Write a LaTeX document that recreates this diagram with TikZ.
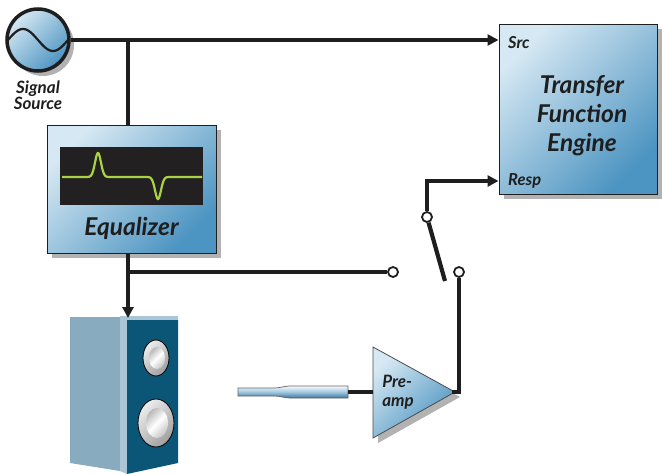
\documentclass[tikz,border=0pt]{standalone}
\usepackage{fontspec}
\setmainfont{Lato}
\usetikzlibrary{arrows.meta,shadows,calc}

\definecolor{boxlight}{HTML}{D6E8F3}
\definecolor{boxdark}{HTML}{4C94C1}
\definecolor{screen}{HTML}{222021}
\definecolor{trace}{HTML}{A9D245}
\definecolor{cabside}{HTML}{89ABC0}
\definecolor{cabedge}{HTML}{AAC6D6}
\definecolor{cabfront}{HTML}{0B5677}
\definecolor{ink}{HTML}{1E1E1E}

\tikzset{
  wire/.style={line width=4.8pt, draw=ink},
  arrowwire/.style={wire, -{Triangle[length=11pt,width=11pt]}},
  softshadow/.style={drop shadow={shadow xshift=5pt, shadow yshift=-5pt, fill=black, opacity=0.3}},
  bluefill/.style={shading=axis, top color=boxlight, bottom color=boxdark, shading angle=45},
  panel/.style={rectangle, draw=ink, line width=1pt, bluefill, softshadow, inner sep=0pt},
  txt/.style={font=\bfseries\itshape, text=ink, inner sep=0pt},
  contact/.style={circle, draw=ink, fill=white, line width=1.8pt, minimum size=10pt, inner sep=0pt},
  conering/.style={draw=black, line width=0.8pt, shading=axis, top color=gray!15, bottom color=gray!75, shading angle=45},
  conecore/.style={shading=axis, top color=gray!55, bottom color=gray!45, middle color=white, shading angle=45},
}

\begin{document}
\begin{tikzpicture}[x=1pt, y=-1pt]
\useasboundingbox (0,0) rectangle (662,474);

% ---- signal source ----
\node[circle, draw=ink, line width=3.5pt, minimum size=62pt, bluefill, softshadow] (src) at (38,40) {};
\begin{scope}
  \clip (src.center) circle (29pt);
  \draw[ink, line width=2.2pt] plot[domain=0:360, samples=60] ({8+\x/6}, {40-11*sin(\x)});
\end{scope}
\node[txt, align=center, font=\bfseries\itshape\fontsize{17}{16}\selectfont] (srclabel) at (38,95) {Signal\\Source};

% ---- transfer function engine ----
\node[panel, minimum width=158pt, minimum height=170pt] (tfe) at (578,109) {};
\node[txt, align=center, font=\bfseries\itshape\fontsize{24.5}{29}\selectfont] (tfetext) at (582,116) {Transfer\\Function\\Engine};
\node[txt, anchor=west, font=\bfseries\itshape\fontsize{16.5}{18}\selectfont] (srcin) at (508,43) {Src};
\node[txt, anchor=west, font=\bfseries\itshape\fontsize{16.5}{18}\selectfont] (respin) at (508,181) {Resp};

% ---- equalizer ----
\node[panel, minimum width=169pt, minimum height=128pt] (eq) at (131.5,189) {};
\node[fill=screen, minimum width=143pt, minimum height=58pt, inner sep=0pt] (scr) at (131.5,176) {};
\draw[trace, line width=2.2pt] plot[domain=62:202, samples=220]
  ({\x}, {177-24*exp(-((\x-98)/4.2)^2)+22*exp(-((\x-158)/4.2)^2)});
\node[txt, font=\bfseries\itshape\fontsize{24.5}{26}\selectfont] (eqlabel) at (131.5,228) {Equalizer};

% ---- loudspeaker ----
\coordinate (spktop) at (128,318);
\fill[cabside] (70,317) -- (120,317) -- (120,471) -- (70,463) -- cycle;
\fill[cabedge] (120,316) -- (178,316) -- (178,320) -- (127,320) -- (127,474) -- (120,471) -- cycle;
\fill[cabfront] (127,320) -- (178,320) -- (178,463) -- (127,474) -- cycle;
\path[conering] (156,358) ellipse (13pt and 18pt);
\path[conecore] (157,358) ellipse (8pt and 11pt);
\path[conering] (156,423) ellipse (18pt and 24pt);
\path[conecore] (157,423) ellipse (11pt and 15pt);

% ---- microphone ----
\coordinate (micend) at (348,392);
\path[draw=ink!70, line width=0.7pt, shading=axis, top color=white!80!boxlight, bottom color=boxdark!80!black, middle color=boxlight!60!boxdark]
  (238,388) -- (274,388) .. controls (281,388) and (284,386) .. (290,386) -- (348,386)
  -- (348,398) -- (290,398) .. controls (284,398) and (281,396) .. (274,396) -- (238,396) -- cycle;

% ---- preamp ----
\coordinate (patop) at (373,347);
\coordinate (pabot) at (373,438);
\coordinate (patip) at (455,392);
\coordinate (pain) at (373,392);
\path[draw=ink!80, line width=0.8pt, bluefill, softshadow] (patop) -- (patip) -- (pabot) -- cycle;
\node[txt, align=left, font=\bfseries\itshape\fontsize{17}{19}\selectfont] (patext) at (398,392) {Pre-\\amp};

% ---- switch contacts ----
\node[contact] (cT) at (427,217) {};
\node[contact] (cL) at (393,272) {};
\node[contact] (cR) at (459,272) {};
\coordinate (blade) at (445,281);

% ---- connectors ----
\coordinate (jtop) at (128,40);
\coordinate (jout) at (128,272);
\draw[arrowwire] (src.east) -- (tfe.west |- src.east);
\draw[wire] (jtop) -- (jtop |- eq.north);
\draw[arrowwire] (jtop |- eq.south) -- (spktop);
\draw[wire] (jout) -- (cL);
\draw[arrowwire] (cT.north) |- (tfe.west |- respin.west);
\draw[wire, line width=4.2pt] (cT) -- (blade);
\draw[wire] (micend) -- (pain);
\draw[wire] ([xshift=-3pt]patip) -| (cR.south);
\end{tikzpicture}
\end{document}
